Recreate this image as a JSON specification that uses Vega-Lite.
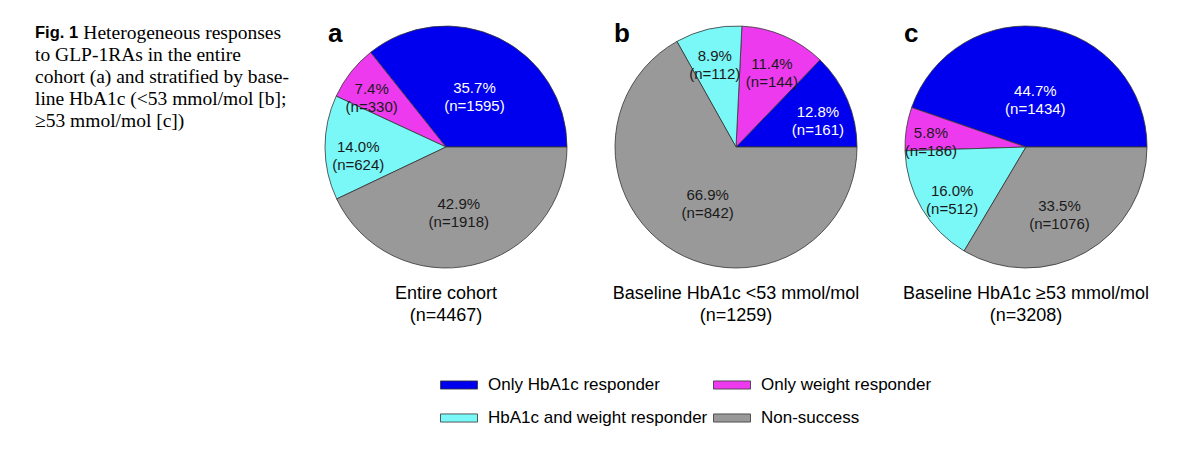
{
  "$schema": "https://vega.github.io/schema/vega-lite/v6.json",
  "background": "white",
  "padding": {"left": 35, "top": 21, "right": 0, "bottom": 0},
  "config": {
    "view": {"stroke": null},
    "font": "Liberation Sans",
    "title": {"color": "black", "font": "Liberation Sans"}
  },
  "datasets": {
    "pies": [
      {"panel": "a", "cat": "Only HbA1c responder", "pct": 35.7, "n": 1595, "label": "35.7%\n(n=1595)"},
      {"panel": "a", "cat": "Only weight responder", "pct": 7.4, "n": 330, "label": "7.4%\n(n=330)"},
      {"panel": "a", "cat": "HbA1c and weight responder", "pct": 14.0, "n": 624, "label": "14.0%\n(n=624)"},
      {"panel": "a", "cat": "Non-success", "pct": 42.9, "n": 1918, "label": "42.9%\n(n=1918)"},
      {"panel": "b", "cat": "Only HbA1c responder", "pct": 12.8, "n": 161, "label": "12.8%\n(n=161)"},
      {"panel": "b", "cat": "Only weight responder", "pct": 11.4, "n": 144, "label": "11.4%\n(n=144)"},
      {"panel": "b", "cat": "HbA1c and weight responder", "pct": 8.9, "n": 112, "label": "8.9%\n(n=112)"},
      {"panel": "b", "cat": "Non-success", "pct": 66.9, "n": 842, "label": "66.9%\n(n=842)"},
      {"panel": "c", "cat": "Only HbA1c responder", "pct": 44.7, "n": 1434, "label": "44.7%\n(n=1434)"},
      {"panel": "c", "cat": "Only weight responder", "pct": 5.8, "n": 186, "label": "5.8%\n(n=186)"},
      {"panel": "c", "cat": "HbA1c and weight responder", "pct": 16.0, "n": 512, "label": "16.0%\n(n=512)"},
      {"panel": "c", "cat": "Non-success", "pct": 33.5, "n": 1076, "label": "33.5%\n(n=1076)"}
    ],
    "caption": [
      {"line": 1, "part": "head", "text": "Fig. 1"},
      {"line": 1, "part": "rest", "text": "Heterogeneous responses"},
      {"line": 2, "part": "body", "text": "to GLP-1RAs in the entire"},
      {"line": 3, "part": "body", "text": "cohort (a) and stratified by base-"},
      {"line": 4, "part": "body", "text": "line HbA1c (<53 mmol/mol [b];"},
      {"line": 5, "part": "body", "text": "≥53 mmol/mol [c])"}
    ]
  },
  "spacing": 20,
  "bounds": "flush",
  "resolve": {"scale": {"theta": "independent", "color": "shared", "radius": "shared"}, "legend": {"color": "shared"}},
  "hconcat": [
    {
      "width": 246,
      "height": 102,
      "data": {"name": "caption"},
      "encoding": {
        "y": {"field": "line", "type": "ordinal", "axis": null, "scale": {"type": "point", "padding": 0.32}}
      },
      "layer": [
        {
          "transform": [{"filter": "datum.part === 'body'"}],
          "mark": {"type": "text", "align": "left", "baseline": "middle", "font": "Liberation Serif", "fontSize": 19.5, "color": "black"},
          "encoding": {
            "x": {"datum": 0, "type": "quantitative", "scale": {"domain": [0, 1]}, "axis": null},
            "text": {"field": "text"}
          }
        },
        {
          "transform": [{"filter": "datum.part === 'rest'"}],
          "mark": {"type": "text", "align": "right", "baseline": "middle", "font": "Liberation Serif", "fontSize": 19.5, "color": "black"},
          "encoding": {
            "x": {"datum": 1, "type": "quantitative", "scale": {"domain": [0, 1]}, "axis": null},
            "text": {"field": "text"}
          }
        },
        {
          "transform": [{"filter": "datum.part === 'head'"}],
          "mark": {"type": "text", "align": "left", "baseline": "middle", "font": "Liberation Sans", "fontWeight": "bold", "fontSize": 16.5, "color": "black"},
          "encoding": {
            "x": {"datum": 0, "type": "quantitative", "scale": {"domain": [0, 1]}, "axis": null},
            "text": {"field": "text"}
          }
        }
      ]
    },
    {
      "spacing": 0,
      "resolve": {"scale": {"theta": "independent", "color": "shared", "radius": "shared"}, "legend": {"color": "shared"}},
      "hconcat": [
        {
          "title": {"text": ["Entire cohort", "(n=4467)"], "orient": "bottom", "anchor": "middle", "offset": 15, "fontSize": 18, "fontWeight": "normal", "lineHeight": 22},
          "vconcat": [
            {
              "width": 290,
              "height": 242,
              "title": {"text": "a", "orient": "top", "anchor": "start", "offset": -23, "dx": 27, "fontSize": 26, "fontWeight": "bold"},
              "data": {"name": "pies"},
              "transform": [
                {"filter": "datum.panel === 'a'"},
                {"calculate": "indexof(['Non-success','HbA1c and weight responder','Only weight responder','Only HbA1c responder'], datum.cat)", "as": "ord"},
                {"stack": "n", "groupby": [], "offset": "normalize", "sort": [{"field": "ord", "order": "ascending"}], "as": ["t0", "t1"]},
                {"calculate": "(datum.t0 + datum.t1) / 2", "as": "tm"}
              ],
              "layer": [
                {
                  "mark": {"type": "arc", "stroke": "#333333", "strokeWidth": 0.8},
                  "encoding": {
                    "theta": {"field": "t0", "type": "quantitative", "scale": {"domain": [0, 1], "range": [1.5707963, 7.8539816]}},
                    "theta2": {"field": "t1"},
                    "color": {
                      "field": "cat", "type": "nominal",
                      "scale": {"domain": ["Only HbA1c responder", "HbA1c and weight responder", "Only weight responder", "Non-success"], "range": ["#0000ee", "#7af7f7", "#ee3aee", "#999999"]},
                      "legend": {"title": null, "orient": "none", "legendX": 405, "legendY": 340, "columns": 2, "symbolType": "M-1,-0.22L1,-0.22L1,0.22L-1,0.22Z", "symbolSize": 1369, "symbolStrokeColor": "#333333", "symbolStrokeWidth": 0.8, "symbolOpacity": 1, "labelFontSize": 17, "labelFont": "Liberation Sans", "labelColor": "black", "labelOffset": 10, "columnPadding": 3, "rowPadding": 6, "labelLimit": 400}
                    }
                  }
                },
                {
                  "mark": {"type": "text", "lineBreak": "\n", "fontSize": 15, "lineHeight": 18, "font": "Liberation Sans"},
                  "encoding": {
                    "theta": {"field": "tm", "type": "quantitative", "scale": {"domain": [0, 1], "range": [1.5707963, 7.8539816]}},
                    "text": {"field": "label"},
                    "radius": {"field": "pct", "type": "quantitative", "scale": {"type": "linear", "domain": [5, 45], "range": [97, 56], "clamp": true, "zero": false}},
                    "color": {"condition": {"test": "datum.cat === 'Only HbA1c responder'", "value": "white"}, "value": "#1a1a1a"}
                  }
                }
              ]
            }
          ]
        },
        {
          "title": {"text": ["Baseline HbA1c <53 mmol/mol", "(n=1259)"], "orient": "bottom", "anchor": "middle", "offset": 15, "fontSize": 18, "fontWeight": "normal", "lineHeight": 22},
          "vconcat": [
            {
              "width": 290,
              "height": 242,
              "title": {"text": "b", "orient": "top", "anchor": "start", "offset": -23, "dx": 23, "fontSize": 26, "fontWeight": "bold"},
              "data": {"name": "pies"},
              "transform": [
                {"filter": "datum.panel === 'b'"},
                {"calculate": "indexof(['Non-success','HbA1c and weight responder','Only weight responder','Only HbA1c responder'], datum.cat)", "as": "ord"},
                {"stack": "n", "groupby": [], "offset": "normalize", "sort": [{"field": "ord", "order": "ascending"}], "as": ["t0", "t1"]},
                {"calculate": "(datum.t0 + datum.t1) / 2", "as": "tm"}
              ],
              "layer": [
                {
                  "mark": {"type": "arc", "stroke": "#333333", "strokeWidth": 0.8},
                  "encoding": {
                    "theta": {"field": "t0", "type": "quantitative", "scale": {"domain": [0, 1], "range": [1.5707963, 7.8539816]}},
                    "theta2": {"field": "t1"},
                    "color": {
                      "field": "cat", "type": "nominal",
                      "scale": {"domain": ["Only HbA1c responder", "HbA1c and weight responder", "Only weight responder", "Non-success"], "range": ["#0000ee", "#7af7f7", "#ee3aee", "#999999"]},
                      "legend": {"title": null, "orient": "none", "legendX": 405, "legendY": 340, "columns": 2, "symbolType": "M-1,-0.22L1,-0.22L1,0.22L-1,0.22Z", "symbolSize": 1369, "symbolStrokeColor": "#333333", "symbolStrokeWidth": 0.8, "symbolOpacity": 1, "labelFontSize": 17, "labelFont": "Liberation Sans", "labelColor": "black", "labelOffset": 10, "columnPadding": 3, "rowPadding": 6, "labelLimit": 400}
                    }
                  }
                },
                {
                  "mark": {"type": "text", "lineBreak": "\n", "fontSize": 15, "lineHeight": 18, "font": "Liberation Sans"},
                  "encoding": {
                    "theta": {"field": "tm", "type": "quantitative", "scale": {"domain": [0, 1], "range": [1.5707963, 7.8539816]}},
                    "text": {"field": "label"},
                    "radius": {"field": "pct", "type": "quantitative", "scale": {"type": "linear", "domain": [5, 45], "range": [97, 56], "clamp": true, "zero": false}},
                    "color": {"condition": {"test": "datum.cat === 'Only HbA1c responder'", "value": "white"}, "value": "#1a1a1a"}
                  }
                }
              ]
            }
          ]
        },
        {
          "title": {"text": ["Baseline HbA1c ≥53 mmol/mol", "(n=3208)"], "orient": "bottom", "anchor": "middle", "offset": 15, "fontSize": 18, "fontWeight": "normal", "lineHeight": 22},
          "vconcat": [
            {
              "width": 290,
              "height": 242,
              "title": {"text": "c", "orient": "top", "anchor": "start", "offset": -23, "dx": 23, "fontSize": 26, "fontWeight": "bold"},
              "data": {"name": "pies"},
              "transform": [
                {"filter": "datum.panel === 'c'"},
                {"calculate": "indexof(['Non-success','HbA1c and weight responder','Only weight responder','Only HbA1c responder'], datum.cat)", "as": "ord"},
                {"stack": "n", "groupby": [], "offset": "normalize", "sort": [{"field": "ord", "order": "ascending"}], "as": ["t0", "t1"]},
                {"calculate": "(datum.t0 + datum.t1) / 2", "as": "tm"}
              ],
              "layer": [
                {
                  "mark": {"type": "arc", "stroke": "#333333", "strokeWidth": 0.8},
                  "encoding": {
                    "theta": {"field": "t0", "type": "quantitative", "scale": {"domain": [0, 1], "range": [1.5707963, 7.8539816]}},
                    "theta2": {"field": "t1"},
                    "color": {
                      "field": "cat", "type": "nominal",
                      "scale": {"domain": ["Only HbA1c responder", "HbA1c and weight responder", "Only weight responder", "Non-success"], "range": ["#0000ee", "#7af7f7", "#ee3aee", "#999999"]},
                      "legend": {"title": null, "orient": "none", "legendX": 405, "legendY": 340, "columns": 2, "symbolType": "M-1,-0.22L1,-0.22L1,0.22L-1,0.22Z", "symbolSize": 1369, "symbolStrokeColor": "#333333", "symbolStrokeWidth": 0.8, "symbolOpacity": 1, "labelFontSize": 17, "labelFont": "Liberation Sans", "labelColor": "black", "labelOffset": 10, "columnPadding": 3, "rowPadding": 6, "labelLimit": 400}
                    }
                  }
                },
                {
                  "mark": {"type": "text", "lineBreak": "\n", "fontSize": 15, "lineHeight": 18, "font": "Liberation Sans"},
                  "encoding": {
                    "theta": {"field": "tm", "type": "quantitative", "scale": {"domain": [0, 1], "range": [1.5707963, 7.8539816]}},
                    "text": {"field": "label"},
                    "radius": {"field": "pct", "type": "quantitative", "scale": {"type": "linear", "domain": [5, 45], "range": [97, 56], "clamp": true, "zero": false}},
                    "color": {"condition": {"test": "datum.cat === 'Only HbA1c responder'", "value": "white"}, "value": "#1a1a1a"}
                  }
                }
              ]
            }
          ]
        }
      ]
    }
  ]
}
